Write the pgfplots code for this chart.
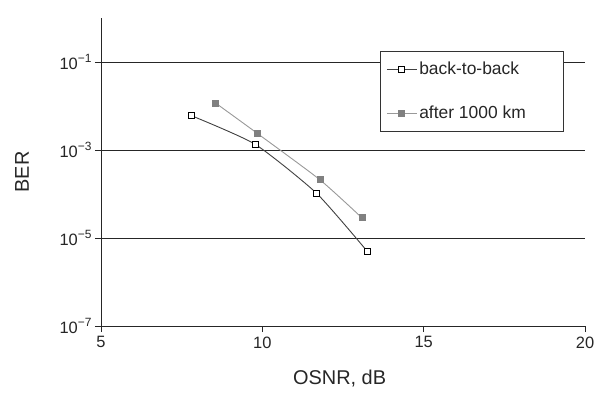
\documentclass[border=0pt]{standalone}
\usepackage{pgfplots}
\pgfplotsset{compat=1.18}
\usepackage{fontspec}
\setmainfont{Liberation Sans}

% power-of-ten tick label set in the text font
\newcommand\tp[1]{10\raisebox{0.42em}{\fontsize{12}{12}\selectfont −#1}}

\begin{document}
\begin{tikzpicture}[x=1bp,y=1bp]
\useasboundingbox (-101,-66) rectangle (493,326);
\begin{axis}[
  at={(0,0)}, anchor=south west,
  width=484bp, height=308bp, scale only axis,
  xmin=5, xmax=20,
  ymode=log, ymin=1e-7, ymax=1,
  axis x line*=bottom, axis y line*=left,
  axis line style={black!85, line width=0.9bp, -},
  xtick={5,10,15,20},
  ytick={1e-7,1e-5,1e-3,1e-1},
  yticklabels={\tp{7},\tp{5},\tp{3},\tp{1}},
  yminorticks=false, xminorticks=false,
  tick align=outside, major tick length=6bp,
  tick style={black!85, line width=0.9bp},
  ymajorgrids, grid style={black!85, line width=0.9bp},
  /pgf/number format/assume math mode=true,
  tick label style={font=\fontsize{16.5}{18}\selectfont, text=black!85},
  xticklabel style={yshift=-1bp},
  xlabel={OSNR, dB}, ylabel={BER},
  label style={font=\fontsize{20}{22}\selectfont, text=black!85},
  xlabel style={at={(axis description cs:0.493,-0.172)}, anchor=center},
  ylabel style={at={(axis description cs:-0.163,0.5)}, anchor=center},
  legend style={at={(0.5764,0.894)}, anchor=north west, draw=black!80,
    line width=0.8bp, fill=white, font=\fontsize{17.5}{19}\selectfont,
    text=black!85, inner xsep=6bp, inner ysep=9bp, row sep=26bp},
  legend cell align=left,
  legend image code/.code={\draw[mark repeat=2,mark phase=2]
    plot coordinates {(0bp,0bp) (15bp,0bp) (30bp,0bp)};},
]
\addplot[black!75, line width=0.9bp, smooth, tension=0.35,
  mark=square*, mark size=3bp, mark options={fill=white, draw=black, solid, line width=0.8bp}]
  coordinates {(7.81,6.0e-3) (9.77,1.36e-3) (11.68,1.04e-4) (13.26,4.9e-6)};
\addlegendentry{back-to-back}
\addplot[black!40, line width=0.9bp, smooth, tension=0.35,
  mark=square*, mark size=3bp, mark options={fill=black!50, draw=black!50, solid}]
  coordinates {(8.55,1.17e-2) (9.84,2.4e-3) (11.79,2.09e-4) (13.09,2.86e-5)};
\addlegendentry{after 1000 km\makebox[30bp]{}}
\end{axis}
\end{tikzpicture}
\end{document}
